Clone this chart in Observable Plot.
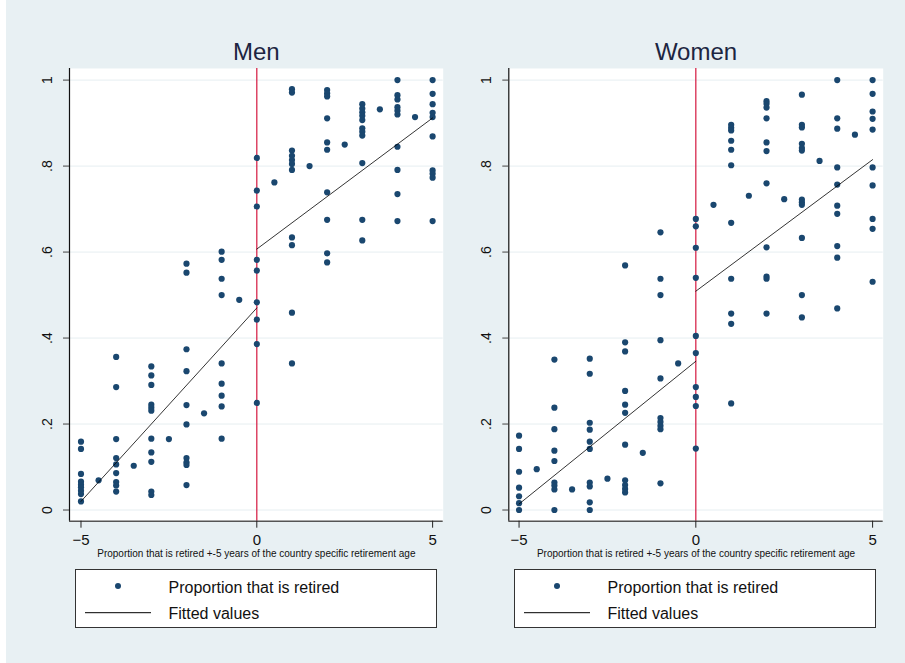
<!DOCTYPE html>
<html>
<head>
<meta charset="utf-8">
<script src="https://cdn.jsdelivr.net/npm/d3@7"></script>
<script src="https://cdn.jsdelivr.net/npm/@observablehq/plot@0.6"></script>
<style>
  html, body { margin: 0; padding: 0; background: #ffffff; }
  #root { position: relative; width: 905px; height: 663px; overflow: hidden; background: #ffffff; font-family: "Liberation Sans", Arial, sans-serif; }
  #bg { position: absolute; left: 6px; top: 0; width: 899px; height: 663px; background: #e8f0f3; }
  .panel { position: absolute; top: 0; }
  .legend { position: absolute; top: 569px; width: 362px; height: 59px; box-sizing: border-box; border: 1px solid #333; background: #fff; }
  .legend svg { position: absolute; left: 0; top: 0; }
</style>
</head>
<body>
<div id="root">
  <div id="bg"></div>
  <div id="men" class="panel" style="left:0px"></div>
  <div id="women" class="panel" style="left:452px"></div>
  <div class="legend" style="left:75px"></div>
  <div class="legend" style="left:514px"></div>
</div>
<script>
// ---- Data ----
const menX = [
  -5,-5,-5,-5,-5,-5,-5,-5,-5,
  -4.5,
  -4,-4,-4,-4,-4,-4,-4,-4,-4,
  -3.5,
  -3,-3,-3,-3,-3,-3,-3,-3,-3,-3,-3,
  -2.5,
  -2,-2,-2,-2,-2,-2,-2,-2,-2,-2,
  -1.5,
  -1,-1,-1,-1,-1,-1,-1,-1,-1,
  -0.5,
  0,0,0,0,0,0,0,0,0,
  0.5,
  1,1,1,1,1,1,1,1,1,1,1,
  1.5,
  2,2,2,2,2,2,2,2,2,2,
  2.5,
  3,3,3,3,3,3,3,3,3,3,3,
  3.5,
  4,4,4,4,4,4,4,4,4,4,
  4.5,
  5,5,5,5,5,5,5,5,5,5
];
const menY = [
  0.159,0.142,0.084,0.066,0.059,0.053,0.045,0.037,0.020,
  0.069,
  0.356,0.286,0.165,0.121,0.106,0.086,0.065,0.057,0.043,
  0.103,
  0.334,0.313,0.291,0.245,0.238,0.231,0.166,0.134,0.112,0.043,0.035,
  0.165,
  0.573,0.552,0.374,0.323,0.244,0.199,0.121,0.111,0.105,0.058,
  0.225,
  0.601,0.582,0.538,0.500,0.341,0.294,0.266,0.241,0.166,
  0.489,
  0.819,0.743,0.706,0.582,0.557,0.483,0.443,0.386,0.249,
  0.762,
  0.979,0.971,0.836,0.824,0.814,0.805,0.791,0.634,0.616,0.459,0.341,
  0.800,
  0.977,0.969,0.962,0.911,0.855,0.838,0.739,0.675,0.597,0.576,
  0.850,
  0.944,0.934,0.925,0.917,0.907,0.888,0.880,0.871,0.807,0.675,0.627,
  0.932,
  1.000,0.965,0.955,0.937,0.929,0.920,0.845,0.791,0.735,0.672,
  0.914,
  1.000,0.968,0.944,0.924,0.914,0.869,0.790,0.782,0.773,0.672
];
const womenX = [
  -5,-5,-5,-5,-5,-5,-5,
  -4.5,
  -4,-4,-4,-4,-4,-4,-4,-4,-4,
  -3.5,
  -3,-3,-3,-3,-3,-3,-3,-3,-3,-3,
  -2.5,
  -2,-2,-2,-2,-2,-2,-2,-2,-2,-2,-2,
  -1.5,
  -1,-1,-1,-1,-1,-1,-1,-1,-1,-1,
  -0.5,
  0,0,0,0,0,0,0,0,0,0,
  0.5,
  1,1,1,1,1,1,1,1,1,1,1,
  1.5,
  2,2,2,2,2,2,2,2,2,2,2,
  2.5,
  3,3,3,3,3,3,3,3,3,3,3,3,
  3.5,
  4,4,4,4,4,4,4,4,4,4,
  4.5,
  5,5,5,5,5,5,5,5,5,5
];
const womenY = [
  0.173,0.142,0.089,0.052,0.032,0.016,0.000,
  0.095,
  0.350,0.238,0.188,0.138,0.114,0.064,0.057,0.048,0.000,
  0.048,
  0.352,0.317,0.203,0.187,0.159,0.142,0.064,0.055,0.018,0.000,
  0.073,
  0.569,0.390,0.369,0.277,0.245,0.226,0.152,0.069,0.058,0.049,0.041,
  0.133,
  0.646,0.538,0.500,0.395,0.306,0.214,0.205,0.196,0.188,0.062,
  0.341,
  0.677,0.660,0.610,0.540,0.405,0.365,0.286,0.263,0.242,0.143,
  0.710,
  0.896,0.889,0.883,0.859,0.838,0.802,0.668,0.538,0.457,0.433,0.248,
  0.731,
  0.951,0.945,0.936,0.911,0.855,0.835,0.760,0.611,0.543,0.538,0.457,
  0.723,
  0.966,0.896,0.890,0.852,0.842,0.836,0.722,0.716,0.710,0.633,0.500,0.448,
  0.812,
  1.000,0.911,0.887,0.797,0.757,0.708,0.689,0.614,0.587,0.469,
  0.873,
  1.000,0.968,0.927,0.910,0.885,0.797,0.755,0.677,0.654,0.531
];
// Fitted values: two segments per panel (left and right of the cutoff)
const fitX = [-5, 0, 0, 5];
const fitSegment = ["left", "left", "right", "right"];
const menFitY = [0.020, 0.470, 0.607, 0.912];
const womenFitY = [0.014, 0.346, 0.509, 0.815];

const panelTitles = ["Men", "Women"];
const xTicks = [-5, 0, 5];
const yTicks = [0, 0.2, 0.4, 0.6, 0.8, 1];
const yTickLabels = ["0", ".2", ".4", ".6", ".8", "1"];
const xTitle = "Proportion that is retired +-5 years of the country specific retirement age";
const legendLabels = ["Proportion that is retired", "Fitted values"];

const navy = "#1a476f";
const cutoffColor = "#d4163f";
const yDomain = [-0.026, 1.027];

function yLabel(d) {
  const i = yTicks.findIndex(t => Math.abs(t - d) < 1e-9);
  return i >= 0 ? yTickLabels[i] : String(d);
}

function panel(title, xs, ys, fitY, xDomain, width, ml, mr) {
  const pts = xs.map((x, i) => ({x, y: ys[i]}));
  const fit = fitX.map((x, i) => ({x, y: fitY[i], s: fitSegment[i]}));
  return Plot.plot({
    width, height: 570,
    marginLeft: ml, marginRight: mr, marginTop: 68, marginBottom: 49.3,
    x: {domain: xDomain},
    y: {domain: yDomain},
    style: {background: "transparent", fontFamily: "'Liberation Sans', Arial, sans-serif", color: "#111", overflow: "visible"},
    marks: [
      Plot.frame({fill: "white", stroke: "none"}),
      Plot.gridY(yTicks, {stroke: "#e6eef1", strokeOpacity: 1, strokeWidth: 1}),
      Plot.ruleX([0], {stroke: cutoffColor, strokeWidth: 1.2}),
      Plot.dot(pts, {x: "x", y: "y", r: 3.1, fill: navy, stroke: "none"}),
      Plot.line(fit, {x: "x", y: "y", z: "s", stroke: "#000", strokeWidth: 0.8}),
      Plot.ruleY([yDomain[0]], {stroke: "#555", strokeWidth: 1.6}),
      Plot.ruleX([xDomain[0]], {stroke: "#111", strokeWidth: 1.2}),
      Plot.axisY(yTicks, {tickFormat: yLabel, tickRotate: -90, tickSize: 6, tickPadding: 12, fontSize: 14, label: null, stroke: "#444"}),
      Plot.axisX(xTicks, {tickSize: 7, tickPadding: 6, fontSize: 15, label: null, stroke: "#222"}),
      Plot.text([xTitle], {frameAnchor: "bottom", dy: 36, fontSize: 10, lineAnchor: "bottom", fill: "#111"}),
      Plot.text([title], {frameAnchor: "top", dy: -8.7, fontSize: 24, lineAnchor: "bottom", fill: "#1c2541"})
    ]
  });
}

document.getElementById("men").append(
  panel(panelTitles[0], menX, menY, menFitY, [-5.327, 5.301], 452, 69, 9.3)
);
document.getElementById("women").append(
  panel(panelTitles[1], womenX, womenY, womenFitY, [-5.29, 5.30], 453, 56.3, 22.3)
);

// Legends
const ns = "http://www.w3.org/2000/svg";
document.querySelectorAll(".legend").forEach(box => {
  const svg = document.createElementNS(ns, "svg");
  svg.setAttribute("width", 360);
  svg.setAttribute("height", 57);
  const dot = document.createElementNS(ns, "circle");
  dot.setAttribute("cx", 42); dot.setAttribute("cy", 16); dot.setAttribute("r", 3);
  dot.setAttribute("fill", navy);
  svg.append(dot);
  const ln = document.createElementNS(ns, "line");
  ln.setAttribute("x1", 9); ln.setAttribute("x2", 75);
  ln.setAttribute("y1", 42.7); ln.setAttribute("y2", 42.7);
  ln.setAttribute("stroke", "#000"); ln.setAttribute("stroke-width", 1);
  svg.append(ln);
  [[legendLabels[0], 22.7], [legendLabels[1], 49.3]].forEach(([t, y]) => {
    const tx = document.createElementNS(ns, "text");
    tx.setAttribute("x", 92.5); tx.setAttribute("y", y);
    tx.setAttribute("font-size", 16);
    tx.setAttribute("font-family", "'Liberation Sans', Arial, sans-serif");
    tx.setAttribute("fill", "#111");
    tx.textContent = t;
    svg.append(tx);
  });
  box.append(svg);
});
</script>
</body>
</html>
